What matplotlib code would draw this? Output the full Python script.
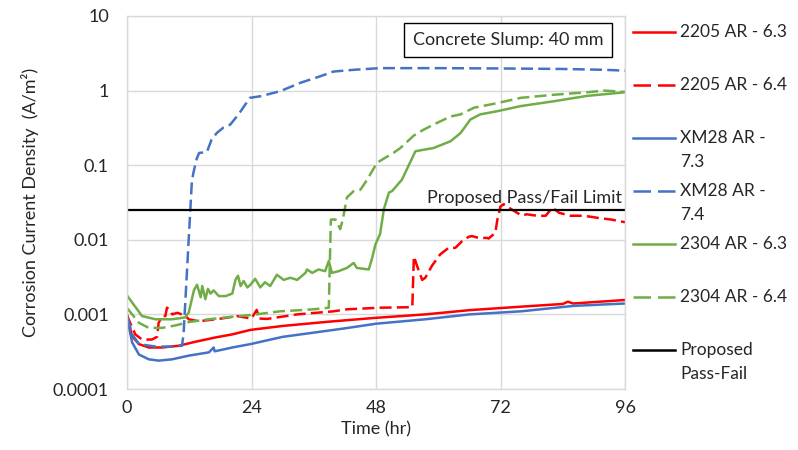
import numpy as np
import matplotlib
matplotlib.use('Agg')
import matplotlib.pyplot as plt
from matplotlib.lines import Line2D
from matplotlib.ticker import FixedLocator, FixedFormatter, NullLocator

###############################
# Data

# 2205 AR - 6.3 (red, solid)
t_2205_63 = [0, 0.2, 1, 2.3, 4.2, 6.8, 10, 13.2, 17, 20.3, 23.8, 30, 39, 48, 57.5, 66, 76, 84, 85, 86, 96]
i_2205_63 = [0.0009, 0.00081, 0.00051, 0.0004, 0.00036, 0.00036, 0.00038, 0.00043, 0.00049, 0.00054,
             0.00062, 0.0007, 0.0008, 0.0009, 0.001, 0.00114, 0.00127, 0.00138, 0.00148, 0.0014, 0.00156]

# 2205 AR - 6.4 (red, dashed)
t_2205_64 = [0, 0.3, 1.6, 2.9, 4.8, 5.8, 6.1, 6.8, 7.4, 7.7, 8.2, 8.7, 9.7, 10.6, 11.3, 11.9, 13.8, 17.7,
             21.2, 24, 25, 25.5, 27, 32.8, 39.8, 42.4, 48.8, 55, 55.3, 55.9, 56.9, 57.5, 58.8, 60.4, 62,
             63.3, 64.6, 65.9, 66.5, 67.8, 69.4, 69.7, 71, 71.4, 72, 72.6, 73.6, 75.2, 76.2, 77, 79.1,
             80.7, 82, 83.3, 85.5, 88.1, 90.7, 93.3, 96]
i_2205_64 = [0.001, 0.00086, 0.00054, 0.00046, 0.00046, 0.0005, 0.00077, 0.00095, 0.00095, 0.00123,
             0.00117, 0.001, 0.00105, 0.001, 0.00095, 0.00086, 0.00081, 0.00087, 0.00095, 0.00088, 0.00115,
             0.00088, 0.00087, 0.001, 0.0011, 0.00117, 0.00123, 0.00125, 0.006, 0.0045, 0.0029, 0.0031,
             0.0045, 0.0064, 0.0078, 0.0078, 0.0096, 0.011, 0.0112, 0.0106, 0.0106, 0.0104, 0.0124, 0.0187,
             0.028, 0.03, 0.027, 0.023, 0.021, 0.022, 0.021, 0.021, 0.027, 0.023, 0.021, 0.021, 0.0197,
             0.0187, 0.0172]

# XM28 AR - 7.3 (blue, solid)
t_xm28_73 = [0, 0.2, 1, 2.3, 4.2, 6.1, 8.7, 11.9, 15.8, 16.7, 16.9, 20.3, 23.8, 30, 36, 42, 48, 57.5,
             66, 76, 86, 96]
i_xm28_73 = [0.0008, 0.00077, 0.00042, 0.00029, 0.00025, 0.00024, 0.00025, 0.00028, 0.00031, 0.00036,
             0.00032, 0.00036, 0.0004, 0.0005, 0.00057, 0.00065, 0.00075, 0.00086, 0.001, 0.0011,
             0.0013, 0.0014]

# XM28 AR - 7.4 (blue, dashed)
t_xm28_74 = [0, 0.2, 1, 2.3, 5.5, 8.7, 10.6, 10.9, 12.5, 12.8, 13.4, 13.9, 15.4, 16.3, 17.3, 18.6, 19.9,
             21.5, 22.8, 23.7, 25.7, 29.5, 33.4, 37.3, 39.8, 43.7, 48.8, 60, 72, 84, 92, 96]
i_xm28_74 = [0.0009, 0.00086, 0.00054, 0.0004, 0.00037, 0.00037, 0.00038, 0.00054, 0.06, 0.079, 0.12,
             0.146, 0.15, 0.22, 0.27, 0.32, 0.35, 0.48, 0.65, 0.8, 0.84, 0.98, 1.27, 1.56, 1.8, 1.9, 2.0,
             2.0, 1.98, 1.95, 1.9, 1.85]

# 2304 AR - 6.3 (green, solid)
t_2304_63 = [0, 0.3, 2.9, 5.5, 8.7, 11.2, 11.9, 12.9, 13.5, 14.2, 14.5, 15.1, 15.6, 16.1, 16.7, 17.7, 19,
             20.3, 20.9, 21.4, 21.9, 22.5, 23.2, 23.8, 24.7, 25.7, 26.6, 27.6, 28.9, 30.2, 31.5, 32.8,
             34.4, 34.7, 35.7, 36.9, 38.2, 38.9, 39.5, 40.8, 42.4, 43.7, 44.3, 46.6, 47.2, 47.9, 48.8,
             49.5, 50.5, 51.1, 53, 55.6, 59.1, 62.4, 64.3, 66.2, 68.1, 71.4, 75.9, 82.3, 88.7, 96]
i_2304_63 = [0.0018, 0.00168, 0.00095, 0.00086, 0.00086, 0.00091, 0.00106, 0.0021, 0.0025, 0.0017,
             0.0024, 0.0016, 0.0022, 0.0019, 0.0021, 0.00176, 0.00176, 0.0019, 0.0029, 0.0033, 0.0024,
             0.0028, 0.0023, 0.0025, 0.003, 0.0023, 0.0027, 0.0024, 0.0034, 0.0029, 0.0031, 0.0029,
             0.0036, 0.004, 0.0036, 0.004, 0.0038, 0.0052, 0.0036, 0.0038, 0.0042, 0.0049, 0.0042, 0.004,
             0.0055, 0.0087, 0.012, 0.0255, 0.043, 0.045, 0.064, 0.154, 0.17, 0.21, 0.27, 0.41, 0.48,
             0.53, 0.62, 0.72, 0.85, 0.95]

# 2304 AR - 6.4 (green, dashed)
t_2304_64 = [0, 0.3, 2.3, 4.2, 6.8, 9.3, 11.9, 15.8, 20.3, 23.8, 29.5, 36, 38.9, 39.3, 40.2, 41.1, 41.6,
             42.4, 43.7, 45, 46.3, 48.2, 51.4, 52.7, 55.3, 57.2, 59.8, 62.4, 64.3, 66.9, 71.4, 75.9, 82.3,
             88.7, 92, 96]
i_2304_64 = [0.0012, 0.00115, 0.00077, 0.00066, 0.00066, 0.00071, 0.00079, 0.00086, 0.00093, 0.00098,
             0.0011, 0.00117, 0.00123, 0.0187, 0.0187, 0.0139, 0.0187, 0.037, 0.045, 0.047, 0.064, 0.108,
             0.147, 0.17, 0.25, 0.30, 0.37, 0.45, 0.48, 0.59, 0.68, 0.80, 0.88, 0.95, 1.0, 0.96]

pass_fail_limit = 0.025

series_labels = ['2205 AR - 6.3', '2205 AR - 6.4', 'XM28 AR -\n7.3', 'XM28 AR -\n7.4',
                 '2304 AR - 6.3', '2304 AR - 6.4']
series_t = [t_2205_63, t_2205_64, t_xm28_73, t_xm28_74, t_2304_63, t_2304_64]
series_i = [i_2205_63, i_2205_64, i_xm28_73, i_xm28_74, i_2304_63, i_2304_64]

x_ticks = [0, 24, 48, 72, 96]
y_ticks = [0.0001, 0.001, 0.01, 0.1, 1, 10]
y_tick_labels = ['0.0001', '0.001', '0.01', '0.1', '1', '10']

###############################
# Styles

RED = '#FF0000'
BLUE = '#4472C4'
GREEN = '#70AD47'
series_colors = [RED, RED, BLUE, BLUE, GREEN, GREEN]
series_dashed = [False, True, False, True, False, True]
LW = 1.8
DASH = (4.8, 2.1)
LEG_DASH = (7.0, 2.8)
TEXT = '#262626'

plt.rcParams['font.family'] = ['Lato', 'DejaVu Sans']
plt.rcParams['font.size'] = 13

fig = plt.figure(figsize=(7.98, 4.5), dpi=100)
ax = fig.add_axes([127 / 798, 1 - 389 / 450, 498 / 798, 373 / 450])

for t, i, c, d in zip(series_t, series_i, series_colors, series_dashed):
    ln, = ax.plot(t, i, color=c, lw=LW, solid_joinstyle='round')
    if d:
        ln.set_dashes(DASH)
        ln.set_dash_capstyle('butt')

ax.axhline(pass_fail_limit, color='black', lw=1.6)
ax.text(95.5, pass_fail_limit * 1.12, 'Proposed Pass/Fail Limit', ha='right', va='bottom',
        color=TEXT, fontsize=13)

ax.text(0.765, 0.936, 'Concrete Slump: 40 mm', transform=ax.transAxes, ha='center', va='center',
        color=TEXT, fontsize=13,
        bbox=dict(boxstyle='square,pad=0.5', fc='white', ec='black', lw=1.0))

ax.set_yscale('log')
ax.set_xlim(0, 96)
ax.set_ylim(0.0001, 10)
ax.xaxis.set_major_locator(FixedLocator(x_ticks))
ax.yaxis.set_major_locator(FixedLocator(y_ticks))
ax.yaxis.set_major_formatter(FixedFormatter(y_tick_labels))
ax.yaxis.set_minor_locator(NullLocator())
ax.tick_params(axis='both', length=0, colors=TEXT, labelsize=13)
ax.tick_params(axis='y', pad=13)
ax.tick_params(axis='x', pad=8)
ax.grid(True, color='#D9D9D9', lw=1)
ax.set_axisbelow(True)
for s in ax.spines.values():
    s.set_color('#D9D9D9')
    s.set_linewidth(1)

ax.set_xlabel('Time (hr)', color=TEXT, fontsize=13, labelpad=4)
ax.set_ylabel('Corrosion Current Density  (A/m²)', color=TEXT, fontsize=13, labelpad=10)

# legend drawn on the right in figure pixels, handle aligned with first text line
leg_labels = series_labels + ['Proposed\nPass-Fail']
leg_colors = series_colors + ['black']
leg_dashed = series_dashed + [False]
for k, (lab, c, d) in enumerate(zip(leg_labels, leg_colors, leg_dashed)):
    yy = 1 - (32 + 53 * k) / 450
    h = Line2D([633 / 798, 675 / 798], [yy, yy], transform=fig.transFigure, color=c, lw=LW)
    if d:
        h.set_dashes(LEG_DASH)
    fig.add_artist(h)
    for j, part in enumerate(lab.split('\n')):
        fig.text(680 / 798, yy - j * 24 / 450, part, ha='left', va='center', color=TEXT, fontsize=12.5)

fig.savefig('out.png', dpi=100)
